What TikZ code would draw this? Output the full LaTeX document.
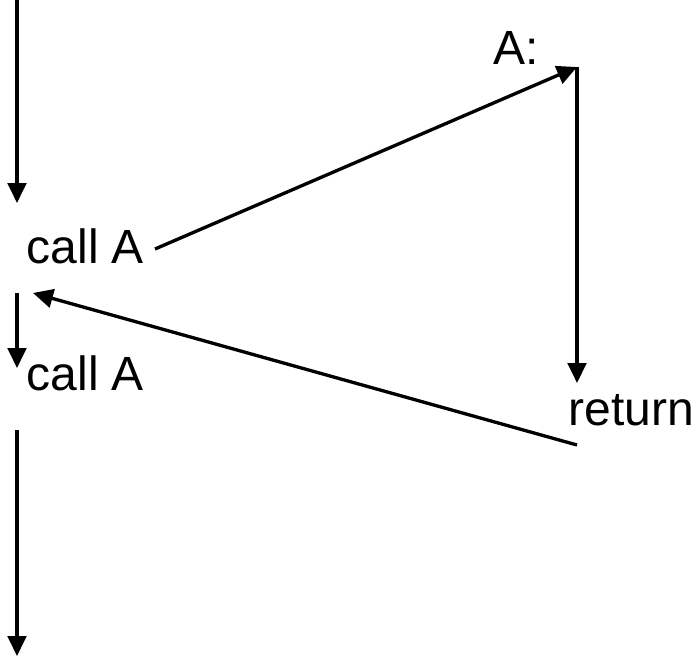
\documentclass[tikz,border=0pt]{standalone}
\usepackage{fontspec}
\setmainfont{Liberation Sans}
\usetikzlibrary{arrows.meta}
\begin{document}
\begin{tikzpicture}[x=.75pt,y=-.75pt,line width=2.5pt,>={Triangle[length=15pt,width=14pt]},
  lbl/.style={anchor=base west,inner sep=0pt,font=\fontsize{36}{40}\selectfont}]
\useasboundingbox (0,0) rectangle (698,656);
\node[lbl] (callA) at (25,263) {call A};\node[lbl] (callB) at (25,390) {call A};
\node[lbl] (labA) at (492,65) {A:};\node[lbl] (ret) at (567,425) {return};
\coordinate (top) at (17,0);\coordinate (topend) at (17,203);
\coordinate (midbeg) at (17,293);\coordinate (midend) at (17,368);
\coordinate (botbeg) at (17,430);\coordinate (botend) at (17,656);
\coordinate (cfrom) at (155,249);\coordinate (aentry) at (577,67);
\coordinate (aexit) at (577,383);\coordinate (rfrom) at (577,445);\coordinate (rto) at (33,293);
\draw[->] (top)--(topend);\draw[->] (midbeg)--(midend);\draw[->] (botbeg)--(botend);
\draw[->] (cfrom)--(aentry);\draw[->] (aentry)--(aexit);\draw[->] (rfrom)--(rto);
\end{tikzpicture}
\end{document}
